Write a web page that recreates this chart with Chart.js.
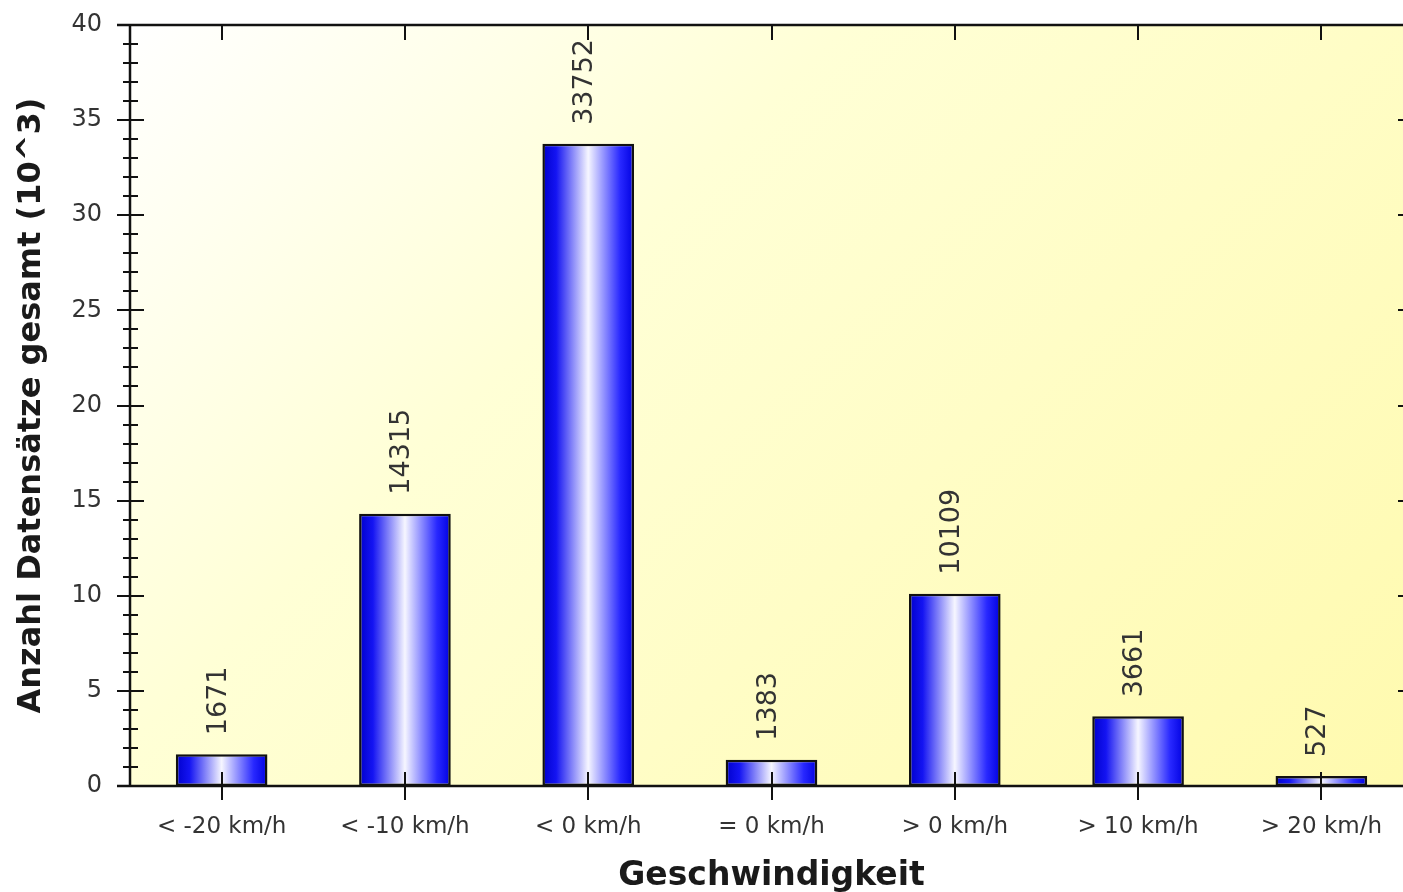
<!DOCTYPE html>
<html>
<head>
<meta charset="utf-8">
<script src="https://cdn.jsdelivr.net/npm/chart.js@4"></script>
<style>
  html, body { margin: 0; padding: 0; background: #fff; overflow: hidden; }
  #wrap { width: 1420px; height: 892px; }
</style>
</head>
<body>
<div id="wrap"><canvas id="speedChart"></canvas></div>
<script>
const categories = ["< -20 km/h", "< -10 km/h", "< 0 km/h", "= 0 km/h", "> 0 km/h", "> 10 km/h", "> 20 km/h"];
const counts = [1671, 14315, 33752, 1383, 10109, 3661, 527];
const yTicks = [0, 5, 10, 15, 20, 25, 30, 35, 40]; // in 10^3

const FONT = "'DejaVu Sans', sans-serif";

// plot background: white top-left to yellow bottom-right
const backgroundPlugin = {
  id: "plotBg",
  beforeDraw(chart) {
    const { ctx, chartArea: a } = chart;
    const s = (a.width + a.height) / 2;
    const g = ctx.createLinearGradient(a.left, a.top, a.left + s, a.top + s);
    g.addColorStop(0, "#ffffff");
    g.addColorStop(0.35, "#ffffd6");
    g.addColorStop(1, "#fffaae");
    ctx.save();
    ctx.fillStyle = g;
    ctx.fillRect(a.left, a.top, a.width, a.height);
    ctx.restore();
  }
};

// axes frame and tick marks
const axesPlugin = {
  id: "axesFrame",
  afterDatasetsDraw(chart) {
    const { ctx, chartArea: a, scales } = chart;
    ctx.save();
    ctx.strokeStyle = "#111111";
    ctx.lineWidth = 2.5;
    ctx.beginPath();
    ctx.moveTo(a.left - 13, a.top); ctx.lineTo(a.right, a.top);
    ctx.moveTo(a.left - 13, a.bottom); ctx.lineTo(a.right, a.bottom);
    ctx.moveTo(a.left, a.top); ctx.lineTo(a.left, a.bottom);
    ctx.moveTo(a.right, a.top); ctx.lineTo(a.right, a.bottom);
    ctx.stroke();

    // y ticks, major every 5, minor every 1
    ctx.lineWidth = 2;
    ctx.beginPath();
    for (let v = 0; v <= 40; v++) {
      const y = Math.round(scales.y.getPixelForValue(v * 1000));
      const major = v % 5 === 0;
      if (major) {
        ctx.moveTo(a.left - 13, y); ctx.lineTo(a.left + 14, y);
        ctx.moveTo(a.right - 15, y); ctx.lineTo(a.right, y);
      } else {
        ctx.moveTo(a.left - 7, y); ctx.lineTo(a.left + 8, y);
        ctx.moveTo(a.right - 8, y); ctx.lineTo(a.right, y);
      }
    }
    // category ticks
    categories.forEach((c, i) => {
      const x = Math.round(scales.x.getPixelForValue(i));
      ctx.moveTo(x, a.bottom - 14); ctx.lineTo(x, a.bottom + 14);
      ctx.moveTo(x, a.top); ctx.lineTo(x, a.top + 15);
    });
    ctx.stroke();
    ctx.restore();
  }
};

// vertical value labels above bars
const valueLabels = {
  id: "valueLabels",
  afterDatasetsDraw(chart) {
    const { ctx } = chart;
    const meta = chart.getDatasetMeta(0);
    ctx.save();
    ctx.fillStyle = "#333333";
    ctx.font = "27px " + FONT;
    ctx.textAlign = "left";
    ctx.textBaseline = "middle";
    meta.data.forEach((bar, i) => {
      ctx.save();
      ctx.translate(bar.x - 3, bar.y - 19);
      ctx.rotate(-Math.PI / 2);
      ctx.fillText(String(counts[i]), 0, 0);
      ctx.restore();
    });
    ctx.restore();
  }
};

function barGradient(context) {
  const chart = context.chart;
  const a = chart.chartArea;
  if (!a || context.type !== "data") return "#2020f0";
  const cx = chart.scales.x.getPixelForValue(context.dataIndex);
  const half = (a.width / categories.length) * 0.25;
  const g = chart.ctx.createLinearGradient(cx - half, 0, cx + half, 0);
  g.addColorStop(0, "#0000cc");
  g.addColorStop(0.15, "#1414f2");
  g.addColorStop(0.5, "#f6f6ff");
  g.addColorStop(0.85, "#2828ff");
  g.addColorStop(1, "#0000e0");
  return g;
}

new Chart(document.getElementById("speedChart"), {
  type: "bar",
  data: {
    labels: categories,
    datasets: [{
      data: counts,
      backgroundColor: barGradient,
      borderColor: "#111111",
      borderWidth: 2.5,
      borderSkipped: false,
      barPercentage: 0.5,
      categoryPercentage: 1.0
    }]
  },
  options: {
    responsive: true,
    maintainAspectRatio: false,
    animation: false,
    layout: { padding: { top: 25, right: 7, left: 0, bottom: 0 } },
    plugins: { legend: { display: false }, tooltip: { enabled: false } },
    scales: {
      x: {
        grid: { display: false },
        border: { display: false },
        ticks: { color: "#333333", font: { family: FONT, size: 23 }, padding: 19, maxRotation: 0, autoSkip: false },
        title: {
          display: true,
          text: "Geschwindigkeit",
          color: "#1a1a1a",
          font: { family: FONT, size: 33, weight: "bold" },
          padding: { top: 0, bottom: -4 }
        },
        afterFit(scale) { scale.height = 106; scale.paddingLeft = 0; scale.paddingRight = 0; }
      },
      y: {
        min: 0,
        max: 40000,
        grid: { display: false },
        border: { display: false },
        afterBuildTicks(scale) { scale.ticks = yTicks.map(v => ({ value: v * 1000 })); },
        ticks: {
          color: "#333333",
          font: { family: FONT, size: 24 },
          padding: 20,
          callback: v => v / 1000
        },
        title: {
          display: true,
          text: "Anzahl Datensätze gesamt (10^3)",
          color: "#1a1a1a",
          font: { family: FONT, size: 32, weight: "bold" },
          padding: { top: 12, bottom: 0 }
        },
        afterFit(scale) { scale.width = 130; scale.paddingTop = 0; scale.paddingBottom = 0; }
      }
    }
  },
  plugins: [backgroundPlugin, axesPlugin, valueLabels]
});
</script>
</body>
</html>
